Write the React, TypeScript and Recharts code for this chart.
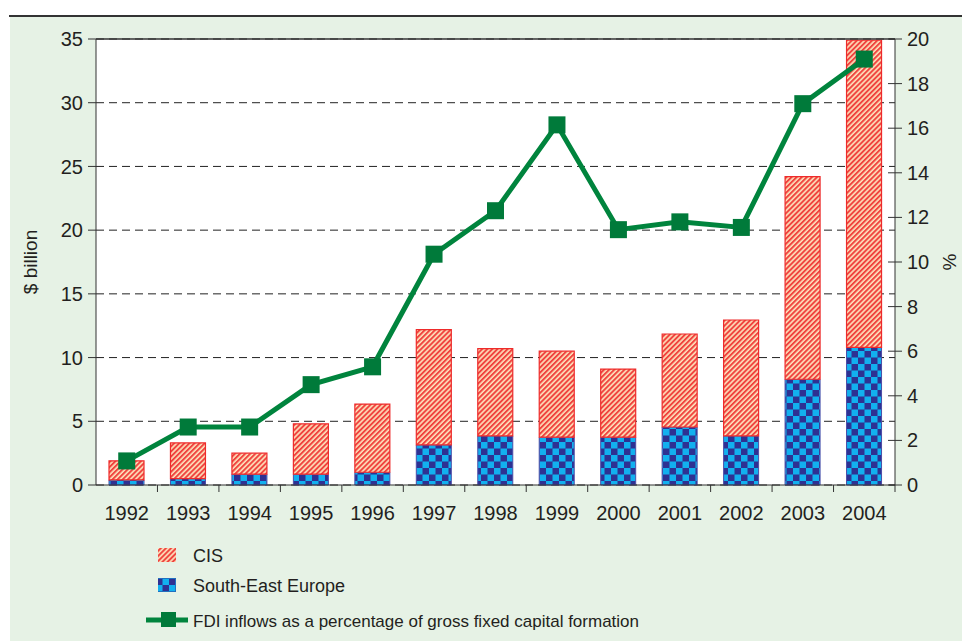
import React from "react";
import {
  ComposedChart,
  Bar,
  Line,
  XAxis,
  YAxis,
  CartesianGrid,
  ReferenceLine,
} from "recharts";

// data
const years = ["1992", "1993", "1994", "1995", "1996", "1997", "1998", "1999", "2000", "2001", "2002", "2003", "2004"];
const seeValues = [0.4, 0.5, 0.85, 0.85, 1.0, 3.15, 3.85, 3.75, 3.75, 4.55, 3.85, 8.3, 10.8];
const cisValues = [1.5, 2.8, 1.65, 3.95, 5.35, 9.05, 6.85, 6.75, 5.35, 7.3, 9.1, 15.9, 24.1];
const fdiShare = [1.08, 2.6, 2.6, 4.5, 5.3, 10.35, 12.3, 16.15, 11.45, 11.8, 11.55, 17.1, 19.1];
const leftTicks = [0, 5, 10, 15, 20, 25, 30, 35];
const rightTicks = [0, 2, 4, 6, 8, 10, 12, 14, 16, 18, 20];

const data = years.map((year, i) => ({
  year,
  see: seeValues[i],
  cis: cisValues[i],
  fdi: fdiShare[i],
}));

const FONT = "'Liberation Sans', Arial, Helvetica, sans-serif";
const TEXT = "#231f20";
const GREEN = "#00843d";
const W = 962;
const H = 641;
const PLOT_LEFT = 96;
const PLOT_RIGHT = 67;
const BAND = (W - PLOT_LEFT - PLOT_RIGHT) / years.length;

// stripes and checks, shared by bars and legend
const Patterns = ({ prefix }: { prefix: string }) => (
  <defs>
    <pattern id={`${prefix}-cis`} width="3.6" height="3.6" patternUnits="userSpaceOnUse" patternTransform="rotate(45)">
      <rect width="3.6" height="3.6" fill="#fde3bd" />
      <rect width="2" height="3.6" fill="#f0443f" />
    </pattern>
    <pattern id={`${prefix}-see`} width="13" height="13" patternUnits="userSpaceOnUse">
      <rect width="13" height="13" fill="#2e3192" />
      <rect width="6.5" height="6.5" fill="#12b0ef" />
      <rect x="6.5" y="6.5" width="6.5" height="6.5" fill="#12b0ef" />
    </pattern>
  </defs>
);

const SquareDot = (props: any) => {
  const { cx, cy, index } = props;
  if (cx == null || cy == null) return null;
  return <rect key={`dot-${index}`} x={cx - 8.5} y={cy - 8.5} width={17} height={17} fill="#007a3a" />;
};

// year labels under bar centres, tick marks between the bars
const YearTick = (props: any) => {
  const { x, y, payload } = props;
  return (
    <g>
      <line x1={x + BAND / 2} x2={x + BAND / 2} y1={y} y2={y + 7} stroke="#333" strokeWidth={1} />
      <text x={x} y={y + 35} textAnchor="middle" fontSize={20} fontFamily={FONT} fill={TEXT}>
        {payload.value}
      </text>
    </g>
  );
};

// right axis ticks cross the axis line
const RightTick = (props: any) => {
  const { x, y, payload } = props;
  return (
    <g>
      <line x1={x - 7} x2={x + 7} y1={y} y2={y} stroke="#333" strokeWidth={1} />
      <text x={x + 12} y={y + 7} textAnchor="start" fontSize={20} fontFamily={FONT} fill={TEXT}>
        {payload.value}
      </text>
    </g>
  );
};

const LegendBox = () => (
  <svg width={W} height={H} style={{ position: "absolute", left: 0, top: 0, pointerEvents: "none" }}>
    <Patterns prefix="lg" />
    <rect x={158} y={548} width={18} height={14} fill="url(#lg-cis)" />
    <text x={193} y={562} fontSize={18} fontFamily={FONT} fill={TEXT}>CIS</text>
    <rect x={158} y={578} width={18} height={14} fill="url(#lg-see)" />
    <text x={193} y={592} fontSize={18} fontFamily={FONT} fill={TEXT}>South-East Europe</text>
    <line x1={146} x2={188} y1={620} y2={620} stroke={GREEN} strokeWidth={5} />
    <rect x={161} y={612} width={15} height={15} fill="#007a3a" />
    <text x={193} y={627} fontSize={17} fontFamily={FONT} fill={TEXT}>
      FDI inflows as a percentage of gross fixed capital formation
    </text>
  </svg>
);

export default function App() {
  return (
    <div style={{ position: "absolute", left: 0, top: 0, width: W, height: H, background: "#fff", overflow: "hidden" }}>
      {/* panel background and the rule above it */}
      <div style={{ position: "absolute", left: 10, top: 17, right: 0, bottom: 0, background: "#e6f2e5" }} />
      <div style={{ position: "absolute", left: 9, top: 15, right: 0, height: 2, background: "#333" }} />

      <div style={{ position: "absolute", left: 0, top: 0 }}>
        <ComposedChart
          width={W}
          height={H}
          data={data}
          margin={{ top: 39, right: 0, bottom: 116, left: 0 }}
          barCategoryGap="22%"
        >
          <Patterns prefix="ch" />
          <CartesianGrid
            yAxisId="left"
            vertical={false}
            fill="#ffffff"
            stroke="#222"
            strokeDasharray="8 5"
          />
          <XAxis
            dataKey="year"
            height={40}
            tickLine={false}
            tickSize={0}
            tickMargin={0}
            axisLine={{ stroke: "#333" }}
            interval={0}
            tick={<YearTick />}
          />
          <YAxis
            yAxisId="left"
            width={PLOT_LEFT}
            domain={[0, 35]}
            ticks={leftTicks}
            tickSize={8}
            tickMargin={5}
            axisLine={{ stroke: "#333" }}
            tickLine={{ stroke: "#333" }}
            tick={{ fontSize: 20, fontFamily: FONT, fill: TEXT }}
            label={{
              value: "$ billion",
              angle: -90,
              position: "insideLeft",
              offset: 30,
              style: { fontSize: 19, fontFamily: FONT, fill: TEXT, textAnchor: "middle" },
            }}
          />
          <YAxis
            yAxisId="right"
            orientation="right"
            width={PLOT_RIGHT}
            domain={[0, 20]}
            ticks={rightTicks}
            tickSize={0}
            tickMargin={0}
            tickLine={false}
            axisLine={{ stroke: "#333" }}
            tick={<RightTick />}
            label={{
              value: "%",
              angle: -90,
              position: "insideRight",
              offset: 13,
              style: { fontSize: 19, fontFamily: FONT, fill: TEXT, textAnchor: "middle" },
            }}
          />
          <ReferenceLine yAxisId="left" y={35} stroke="#333" strokeWidth={1.5} />
          <Bar
            yAxisId="left"
            dataKey="see"
            stackId="fdi"
            barSize={35}
            fill="url(#ch-see)"
            stroke="#4a4ea8"
            strokeWidth={1}
            isAnimationActive={false}
          />
          <Bar
            yAxisId="left"
            dataKey="cis"
            stackId="fdi"
            barSize={35}
            fill="url(#ch-cis)"
            stroke="#ee2b2b"
            strokeWidth={1.2}
            isAnimationActive={false}
          />
          <Line
            yAxisId="right"
            dataKey="fdi"
            stroke={GREEN}
            strokeWidth={5}
            dot={<SquareDot />}
            activeDot={false}
            isAnimationActive={false}
          />
        </ComposedChart>
      </div>
      <LegendBox />
    </div>
  );
}
